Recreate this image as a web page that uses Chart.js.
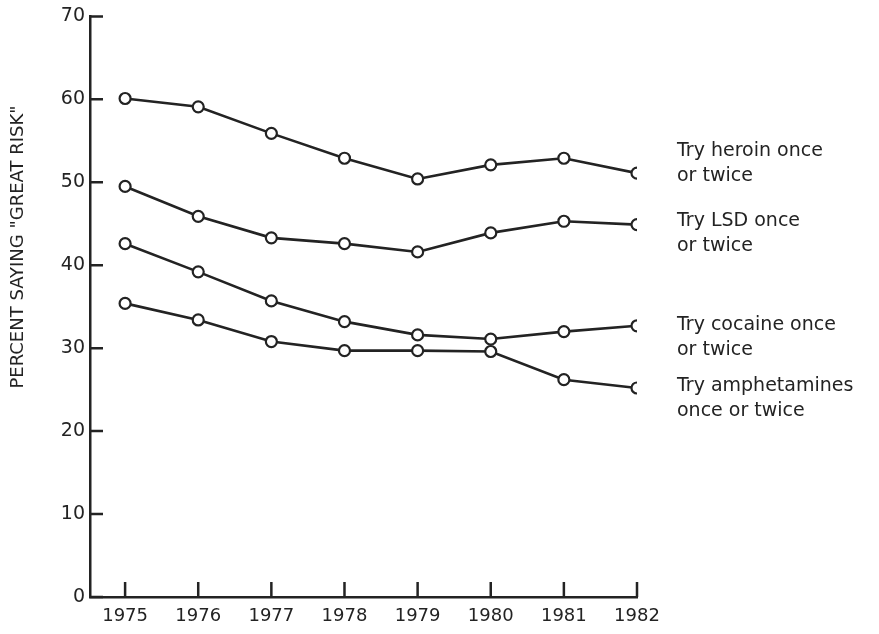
<!DOCTYPE html>
<html lang="en">
<head>
<meta charset="UTF-8" />
<title>Percent saying "great risk"</title>
<style>
    body {
        margin: 0;
        background: #fff;
    }
    #chart {
        display: block;
    }
</style>
</head>
<body>
<canvas id="chart" width="879" height="634"></canvas>
<script src="https://cdn.jsdelivr.net/npm/chart.js"></script>
<script>
// survey years
const years = [1975, 1976, 1977, 1978, 1979, 1980, 1981, 1982]
// percent saying "great risk", per drug
const heroin = [60.1, 59.1, 55.9, 52.9, 50.4, 52.1, 52.9, 51.1]
const lsd = [49.5, 45.9, 43.3, 42.6, 41.6, 43.9, 45.3, 44.9]
const cocaine = [42.6, 39.2, 35.7, 33.2, 31.6, 31.1, 32.0, 32.7]
const amphetamines = [35.4, 33.4, 30.8, 29.7, 29.7, 29.6, 26.2, 25.2]
const yTicks = [0, 10, 20, 30, 40, 50, 60, 70]

const seriesLabels = [
    ["Try heroin once", "or twice"],
    ["Try LSD once", "or twice"],
    ["Try cocaine once", "or twice"],
    ["Try amphetamines", "once or twice"],
]
// vertical shift of each label block against its last point
const labelShift = [-22, -4, -1, -2]

const ink = "#232323"
const font = "'DejaVu Sans', sans-serif"

function series(values) {
    return {
        data: values.map((v, i) => ({ x: years[i], y: v })),
        borderColor: ink,
        borderWidth: 2.6,
        pointRadius: 5.5,
        pointBorderWidth: 2.2,
        pointBackgroundColor: "#fff",
        pointBorderColor: ink,
        tension: 0,
    }
}

// ticks drawn inward, end labels and the rotated axis title
const decorations = {
    id: "decorations",
    afterDraw(chart) {
        const ctx = chart.ctx
        const xs = chart.scales.x
        const ys = chart.scales.y
        ctx.save()
        ctx.strokeStyle = ink
        ctx.lineWidth = 2.5
        ctx.beginPath()
        yTicks.forEach((v) => {
            const py = ys.getPixelForValue(v)
            ctx.moveTo(xs.left, py)
            ctx.lineTo(xs.left + 13, py)
        })
        years.forEach((yr) => {
            const px = xs.getPixelForValue(yr)
            ctx.moveTo(px, ys.bottom)
            ctx.lineTo(px, ys.bottom - 15)
        })
        ctx.stroke()

        ctx.fillStyle = ink
        ctx.font = "19px " + font
        ctx.textBaseline = "middle"
        ctx.textAlign = "left"
        chart.data.datasets.forEach((ds, i) => {
            const last = ds.data[ds.data.length - 1]
            const px = xs.getPixelForValue(last.x) + 40
            const py = ys.getPixelForValue(last.y) + labelShift[i]
            seriesLabels[i].forEach((line, j) => {
                ctx.fillText(line, px, py + j * 25)
            })
        })

        ctx.font = "18px " + font
        ctx.textAlign = "center"
        ctx.translate(18, 247)
        ctx.rotate(-Math.PI / 2)
        ctx.fillText('PERCENT SAYING "GREAT RISK"', 0, 0)
        ctx.restore()
    },
}

new Chart(document.getElementById("chart"), {
    type: "line",
    data: {
        datasets: [
            series(heroin),
            series(lsd),
            series(cocaine),
            series(amphetamines),
        ],
    },
    options: {
        responsive: false,
        animation: false,
        layout: {
            padding: { top: 14, right: 242, left: 0, bottom: 0 },
        },
        plugins: {
            legend: { display: false },
            tooltip: { enabled: false },
        },
        scales: {
            x: {
                type: "linear",
                min: 1974.52,
                max: 1982,
                afterBuildTicks: (scale) => {
                    scale.ticks = years.map((v) => ({ value: v }))
                },
                afterFit: (scale) => {
                    scale.height = 37
                },
                grid: { display: false, drawTicks: false },
                border: { color: ink, width: 2.5 },
                ticks: {
                    color: ink,
                    font: { family: font, size: 18 },
                    padding: 9,
                    maxRotation: 0,
                    autoSkip: false,
                    callback: (v) => String(v),
                },
            },
            y: {
                min: 0,
                max: 70,
                afterBuildTicks: (scale) => {
                    scale.ticks = yTicks.map((v) => ({ value: v }))
                },
                afterFit: (scale) => {
                    scale.width = 90
                },
                grid: { display: false, drawTicks: false },
                border: { color: ink, width: 2.5 },
                ticks: {
                    color: ink,
                    font: { family: font, size: 19 },
                    padding: 5,
                },
            },
        },
    },
    plugins: [decorations],
})
</script>
</body>
</html>
